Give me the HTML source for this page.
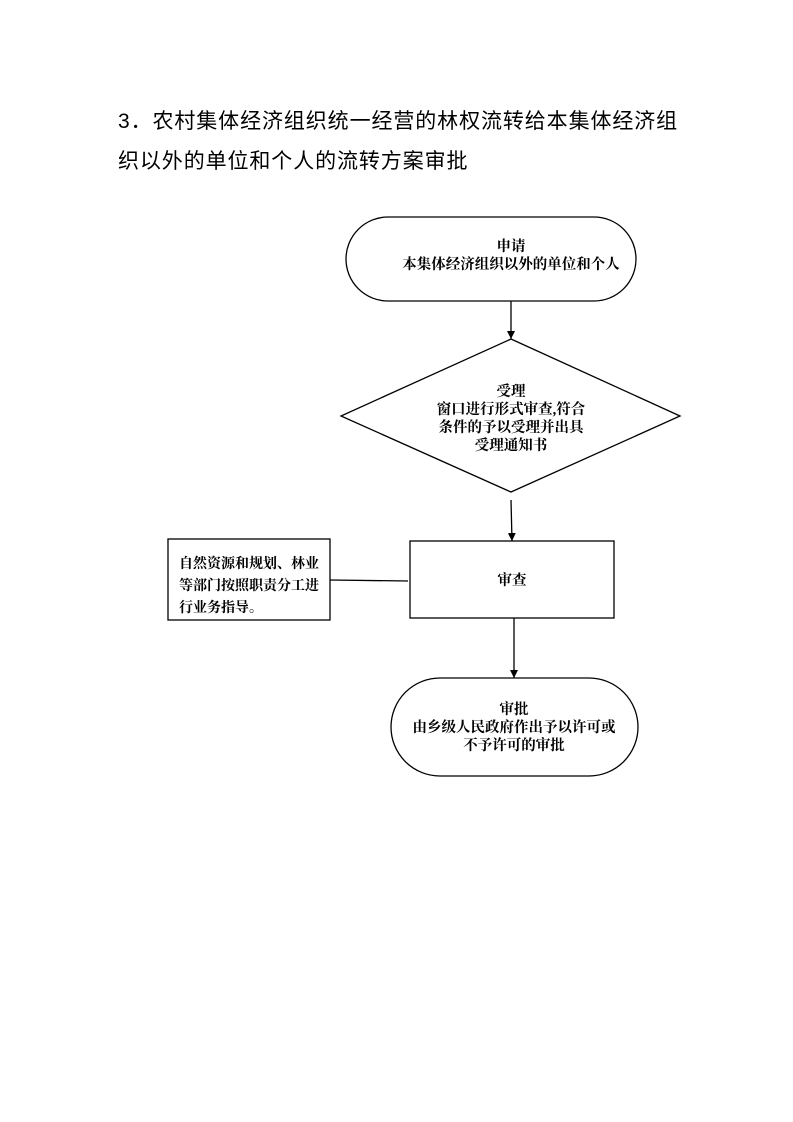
<!DOCTYPE html>
<html><head><meta charset="utf-8"><style>
body{margin:0;background:#fff;}
.wrap{position:relative;width:793px;height:1122px;overflow:hidden;}
.t{position:absolute;left:118px;font-family:"Liberation Sans","Noto Sans CJK SC",sans-serif;font-size:21px;color:#000;white-space:nowrap;letter-spacing:0.9px;}
svg text{font-family:"Liberation Serif","Noto Serif CJK SC",serif;font-size:14.5px;font-weight:bold;fill:#000;}
</style></head><body><div class="wrap">
<div class="t" style="top:105px">3．农村集体经济组织统一经营的林权流转给本集体经济组</div>
<div class="t" style="top:145px">织以外的单位和个人的流转方案审批</div>
<svg width="793" height="1122" style="position:absolute;left:0;top:0">
<defs><marker id="a" markerWidth="10" markerHeight="10" refX="8" refY="5" orient="auto" markerUnits="userSpaceOnUse"><path d="M0,1 L8,5 L0,9 Z" fill="#000"/></marker></defs>
<g stroke="#000" stroke-width="1.3" fill="none">
<rect x="346" y="217" width="290" height="84" rx="42"/>
<line x1="511" y1="301" x2="511" y2="339" marker-end="url(#a)"/>
<polygon points="511,339 680,416 511,492 341,416"/>
<line x1="511" y1="500" x2="512" y2="541" marker-end="url(#a)"/>
<rect x="410" y="541" width="204" height="77"/>
<rect x="168" y="539" width="162" height="81"/>
<line x1="330" y1="580" x2="408" y2="581"/>
<line x1="514" y1="618" x2="514" y2="678" marker-end="url(#a)"/>
<rect x="391" y="678" width="247" height="98" rx="49"/>
</g>
<g text-anchor="middle">
<text x="511" y="251">申请</text>
<text x="511" y="269">本集体经济组织以外的单位和个人</text>
<text x="511" y="396">受理</text>
<text x="511" y="414">窗口进行形式审查,符合</text>
<text x="511" y="432">条件的予以受理并出具</text>
<text x="511" y="450">受理通知书</text>
<text x="512" y="585">审查</text>
<text x="514" y="714">审批</text>
<text x="514" y="732">由乡级人民政府作出予以许可或</text>
<text x="514" y="750">不予许可的审批</text>
</g>
<text x="179" y="568" style="font-size:14px">自然资源和规划、林业</text>
<text x="179" y="590" style="font-size:14px">等部门按照职责分工进</text>
<text x="179" y="612" style="font-size:14px">行业务指导。</text>
</svg>
</div></body></html>
